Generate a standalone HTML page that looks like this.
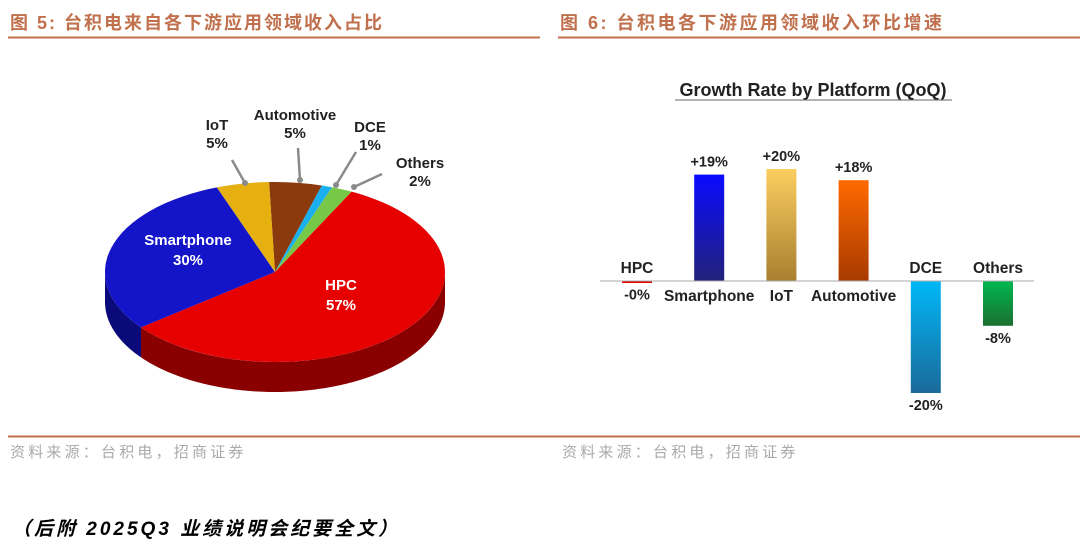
<!DOCTYPE html>
<html><head><meta charset="utf-8"><style>
html,body{margin:0;padding:0;background:#fff;width:1080px;height:550px;overflow:hidden}
svg{display:block}
.t{font-family:"Liberation Sans","Noto Sans CJK SC",sans-serif}
</style></head><body>
<svg id="svg" width="1080" height="550" viewBox="0 0 1080 550" xmlns="http://www.w3.org/2000/svg">
<defs>
<linearGradient id="gSm" x1="0" y1="0" x2="0" y2="1"><stop offset="0" stop-color="#0a0aff"/><stop offset="1" stop-color="#22227a"/></linearGradient>
<linearGradient id="gIo" x1="0" y1="0" x2="0" y2="1"><stop offset="0" stop-color="#fcce60"/><stop offset="1" stop-color="#a88030"/></linearGradient>
<linearGradient id="gAu" x1="0" y1="0" x2="0" y2="1"><stop offset="0" stop-color="#ff6a00"/><stop offset="1" stop-color="#a83a00"/></linearGradient>
<linearGradient id="gDc" x1="0" y1="0" x2="0" y2="1"><stop offset="0" stop-color="#00b8f8"/><stop offset="1" stop-color="#1a6a9a"/></linearGradient>
<linearGradient id="gOt" x1="0" y1="0" x2="0" y2="1"><stop offset="0" stop-color="#00b850"/><stop offset="1" stop-color="#1a7030"/></linearGradient>
</defs>
<text class="t" x="10" y="29" font-size="18" font-weight="bold" fill="#c0704c" letter-spacing="2">图 5:  台积电来自各下游应用领域收入占比</text>
<line x1="8" y1="37.5" x2="540" y2="37.5" stroke="#c0704c" stroke-width="2"/>
<text class="t" x="560" y="29" font-size="18" font-weight="bold" fill="#c0704c" letter-spacing="2.5">图 6:  台积电各下游应用领域收入环比增速</text>
<line x1="558" y1="37.5" x2="1080" y2="37.5" stroke="#c0704c" stroke-width="2"/>
<line x1="8" y1="436.5" x2="1080" y2="436.5" stroke="#c0704c" stroke-width="2"/>
<text class="t" x="10" y="457" font-size="15" fill="#aaa" letter-spacing="3.2">资料来源：台积电，招商证券</text>
<text class="t" x="562" y="457" font-size="15" fill="#aaa" letter-spacing="3.2">资料来源：台积电，招商证券</text>
<text class="t" x="12" y="535" font-size="19" font-weight="bold" font-style="italic" fill="#000" letter-spacing="3">（后附 2025Q3  业绩说明会纪要全文）</text>
<g id="pie"></g>
<g id="bars"></g>
</svg>
<script>
const NS='http://www.w3.org/2000/svg';
const pieLabels=['Automotive','DCE','Others','HPC','Smartphone','IoT'];
const pieValues=[5,1,2,57,30,5];
const pieTop=['#8a3a0c','#1ab0f0','#78c848','#e60000','#1414c8','#e6b010'];
const pieSide=['#5a2006','#0a70a0','#3a8a20','#8a0000','#0a0a7a','#9a7008'];

const barCats=['HPC','Smartphone','IoT','Automotive','DCE','Others'];
const barValues=[-0.3,19,20,18,-20,-8];
const barTexts=['-0%','+19%','+20%','+18%','-20%','-8%'];
const barFills=['#e00000','url(#gSm)','url(#gIo)','url(#gAu)','url(#gDc)','url(#gOt)'];

function mk(tag,attrs,parent){const e=document.createElementNS(NS,tag);for(const k in attrs)e.setAttribute(k,attrs[k]);parent.appendChild(e);return e;}

// ---- pie ----
const pie=document.getElementById('pie');
const cx=275,cy=272,rx=170,ry=90,depth=30,startDeg=-2;
function pt(d,dy){const r=d*Math.PI/180;return [cx+rx*Math.sin(r),cy-ry*Math.cos(r)+(dy||0)];}
const total=pieValues.reduce((a,b)=>a+b,0);
let ang=startDeg;const slices=[];
pieValues.forEach((v,i)=>{const a0=ang,a1=ang+v/total*360;slices.push([a0,a1]);ang=a1;});
slices.forEach(([a0,a1],i)=>{
  const s=Math.max(a0,90),e=Math.min(a1,270);
  if(e<=s)return;
  const pts=[];
  for(let d=s;d<=e+0.001;d+=1)pts.push(pt(Math.min(d,e)));
  for(let d=e;d>=s-0.001;d-=1)pts.push(pt(Math.max(d,s),depth));
  const p=mk('polygon',{points:pts.map(q=>q.join(',')).join(' '),fill:pieSide[i]},pie);
  
  
});
slices.forEach(([a0,a1],i)=>{
  const p0=pt(a0),p1=pt(a1);const large=(a1-a0)>180?1:0;
  const p=mk('path',{d:`M${cx},${cy} L${p0[0]},${p0[1]} A${rx},${ry} 0 ${large} 1 ${p1[0]},${p1[1]} Z`,fill:pieTop[i]},pie);
  
  
});
function lab(txt,x,y,col,name){const t=mk('text',{x:x,y:y,'text-anchor':'middle','font-size':15,'font-weight':'bold',fill:col,class:'t'},pie);t.textContent=txt;
  
  }
lab('Smartphone',188,245,'#fff','pie-label-smartphone');lab(pieValues[4]+'%',188,265,'#fff','pie-value-smartphone');
lab('HPC',341,290,'#fff','pie-label-hpc');lab(pieValues[3]+'%',341,310,'#fff','pie-value-hpc');
const outer=[[5,'IoT',217,130,[[232,160],[245,183]]],[0,'Automotive',295,120,[[298,148],[300,180]]],[1,'DCE',370,132,[[356,152],[336,185]]],[2,'Others',420,168,[[382,174],[354,187]]]];
outer.forEach(([i,name,x,y,ln])=>{
  const l=mk('line',{x1:ln[0][0],y1:ln[0][1],x2:ln[1][0],y2:ln[1][1],stroke:'#8a8a8a','stroke-width':2.5},pie);
  
  
  const c=mk('circle',{cx:ln[1][0],cy:ln[1][1],r:3,fill:'#8a8a8a'},pie);
  
  
  lab(name,x,y,'#222','pie-label-'+name.toLowerCase());
  lab(pieValues[i]+'%',x,y+18,'#222','pie-value-'+name.toLowerCase());
});

// ---- bars ----
const bars=document.getElementById('bars');
const baseY=281,pxPer=5.6,x0=637,step=72.2,bw=30;
const yS=v=>baseY-v*pxPer;const xS=i=>x0+i*step;
const tt=mk('text',{x:813,y:96,'text-anchor':'middle','font-size':18,'font-weight':'bold',fill:'#222',class:'t'},bars);
tt.textContent='Growth Rate by Platform (QoQ)';


const ul=mk('line',{x1:675,y1:100,x2:952,y2:100,stroke:'#666','stroke-width':1},bars);


barValues.forEach((v,i)=>{
  const x=xS(i),y1=yS(Math.max(v,0)),y2=yS(Math.min(v,0));
  const h=Math.max(y2-y1,2);
  const r=mk('rect',{x:x-bw/2,y:y1,width:bw,height:h,fill:barFills[i]},bars);
  
  
  const vt=mk('text',{x:x,y:v>=0?y1-8:y2+17,'text-anchor':'middle','font-size':14.5,'font-weight':'bold',fill:'#222',class:'t'},bars);
  vt.textContent=barTexts[i];
  
  
  const ct=mk('text',{x:x,y:v>=0&&v>1?baseY+20:baseY-8,'text-anchor':'middle','font-size':15.5,'font-weight':'bold',fill:'#222',class:'t'},bars);
  ct.textContent=barCats[i];
  
  
});
const ax=mk('line',{x1:600,y1:baseY,x2:1034,y2:baseY,stroke:'#aaa','stroke-width':1},bars);


</script>
</body></html>
